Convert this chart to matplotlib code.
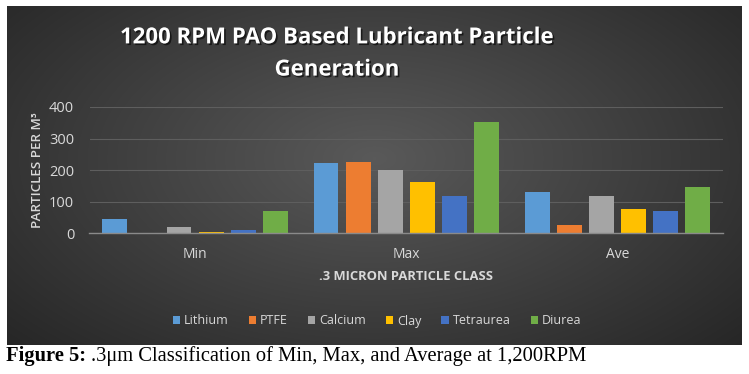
import matplotlib.pyplot as plt
import matplotlib.patheffects as pe
import numpy as np

# Data
categories = ['Min', 'Max', 'Ave']
series_names = ['Lithium', 'PTFE', 'Calcium', 'Clay', 'Tetraurea', 'Diurea']
lithium = [46, 223, 131]
ptfe = [1, 226, 25]
calcium = [19, 201, 117]
clay = [3, 162, 77]
tetraurea = [9, 117, 70]
diurea = [69, 351, 146]
yticks = [0, 100, 200, 300, 400]

series = [lithium, ptfe, calcium, clay, tetraurea, diurea]
colors = ['#5B9BD5', '#ED7D31', '#A5A5A5', '#FFC000', '#4472C4', '#70AD47']
txt = '#d9d9d9'

W, H = 749, 374
fig = plt.figure(figsize=(W / 100, H / 100), dpi=100)
fig.patch.set_facecolor('white')

# dark panel with radial gradient
ax_bg = fig.add_axes([7 / W, 1 - 345 / H, 735 / W, 339 / H])
ax_bg.axis('off')
yy, xx = np.mgrid[0:1:200j, 0:1:400j]
r = np.sqrt(((xx - 0.5) / 0.75) ** 2 + ((yy - 0.45) / 0.9) ** 2)
g = np.clip(0.35 - 0.22 * r, 0.13, 0.4)
img = np.dstack([g, g, g])
ax_bg.imshow(img, aspect='auto', extent=[0, 1, 0, 1], interpolation='bilinear')

# main chart
ax = fig.add_axes([89.5 / W, 1 - 233 / H, (723 - 89.5) / W, 126 / H])
ax.patch.set_alpha(0)
x = np.arange(len(categories))
pitch, width = 0.152, 0.118
for i, (name, vals, c) in enumerate(zip(series_names, series, colors)):
    ax.bar(x + (i - 2.5) * pitch, vals, width, color=c, label=name, zorder=3)

ax.set_xlim(-0.5, 2.5)
ax.set_ylim(0, 400)
ax.set_yticks(yticks)
ax.set_xticks(x)
ax.set_xticklabels(categories)
ax.grid(axis='y', color='#5e5e5e', linewidth=0.8, zorder=0)
for s in ['top', 'right', 'left']:
    ax.spines[s].set_visible(False)
ax.spines['bottom'].set_color('#8a8a8a')
ax.spines['bottom'].set_linewidth(1.0)
ax.spines['bottom'].set_zorder(4)
ax.tick_params(axis='y', length=0, colors=txt, labelsize=10.5, pad=11)
ax.tick_params(axis='x', length=0, colors=txt, labelsize=10, pad=10)
for lbl in ax.get_xticklabels() + ax.get_yticklabels():
    lbl.set_fontfamily('Open Sans')

ax.set_ylabel('PARTICLES PER M³', color=txt, fontsize=9.6, fontfamily='Open Sans',
              fontweight='semibold', labelpad=4)
ax.set_xlabel('.3 MICRON PARTICLE CLASS', color=txt, fontsize=9.4, fontfamily='Open Sans',
              fontweight='bold', labelpad=6)

fig.text(337 / W, 1 - 54 / H, '1200 RPM PAO Based Lubricant Particle\nGeneration',
         ha='center', va='center', color='white', fontsize=16, fontweight='bold',
         fontfamily='Open Sans', linespacing=1.7,
         path_effects=[pe.withSimplePatchShadow(offset=(1.2, -1.2), shadow_rgbFace='black', alpha=0.6)])

leg = ax.legend(loc='center', bbox_to_anchor=(377 / W, 1 - 321 / H), bbox_transform=fig.transFigure,
                ncol=6, frameon=False, handlelength=0.6, handleheight=0.6,
                handletextpad=0.3, columnspacing=1.6, prop={'family': 'Open Sans', 'size': 9})
for t in leg.get_texts():
    t.set_color(txt)

# caption
fig.text(6 / W, 1 - 356 / H, 'Figure 5:', ha='left', va='center', fontsize=14.8,
         fontfamily='Liberation Serif', fontweight='bold', color='black')
fig.text(91 / W, 1 - 356 / H, '.3μm Classification of Min, Max, and Average at 1,200RPM',
         ha='left', va='center', fontsize=14.8, fontfamily='Liberation Serif', color='black')

fig.savefig('out.png', dpi=100)
